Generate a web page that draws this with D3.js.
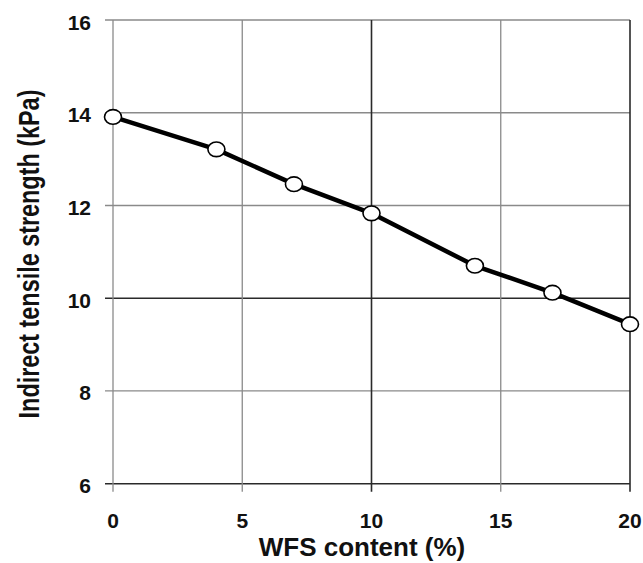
<!DOCTYPE html>
<html><head><meta charset="utf-8">
<script src="https://cdn.jsdelivr.net/npm/d3@7"></script>
<style>body{margin:0;background:#fff}svg{display:block}</style>
</head><body>
<svg id="c" width="643" height="563"></svg>
<script>
const wfsContent = [0, 4, 7, 10, 14, 17, 20];
const tensileStrength = [13.91, 13.21, 12.46, 11.83, 10.70, 10.12, 9.44];
const xTicks = [0, 5, 10, 15, 20];
const yTicks = [6, 8, 10, 12, 14, 16];
const xTitle = "WFS content (%)";
const yTitle = "Indirect tensile strength (kPa)";

const svg = d3.select("#c");
const x = d3.scaleLinear().domain([0, 20]).range([113, 630]);
const y = d3.scaleLinear().domain([6, 16]).range([483.7, 20]);
const font = "'Liberation Sans', Arial, sans-serif";

const darkX = new Set([10, 20]);
const darkY = new Set([6, 10]);

svg.append("g").selectAll("line").data(yTicks).join("line")
  .attr("x1", x(0) - 8).attr("x2", x(20))
  .attr("y1", d => y(d)).attr("y2", d => y(d))
  .attr("stroke", d => darkY.has(d) ? "#2a2a2a" : "#8a8a8a")
  .attr("stroke-width", d => darkY.has(d) ? 1.6 : 1.3);

svg.append("g").selectAll("line").data(xTicks).join("line")
  .attr("x1", d => x(d)).attr("x2", d => x(d))
  .attr("y1", y(16)).attr("y2", y(6) + 8)
  .attr("stroke", d => darkX.has(d) ? "#2a2a2a" : "#8a8a8a")
  .attr("stroke-width", d => darkX.has(d) ? 1.6 : 1.3);

svg.append("g").selectAll("text").data(yTicks).join("text")
  .attr("x", 91).attr("y", d => y(d) + 9.5)
  .attr("text-anchor", "end")
  .attr("font-family", font).attr("font-weight", "bold").attr("font-size", 21)
  .attr("fill", "#111").text(d => d);

svg.append("g").selectAll("text").data(xTicks).join("text")
  .attr("x", d => x(d)).attr("y", 527.5)
  .attr("text-anchor", "middle")
  .attr("font-family", font).attr("font-weight", "bold").attr("font-size", 21)
  .attr("fill", "#111").text(d => d);

const pts = wfsContent.map((d, i) => [d, tensileStrength[i]]);
svg.append("path").datum(pts)
  .attr("d", d3.line().x(d => x(d[0])).y(d => y(d[1])))
  .attr("fill", "none").attr("stroke", "#000").attr("stroke-width", 4.5)
  .attr("stroke-linejoin", "round");

svg.append("g").selectAll("ellipse").data(pts).join("ellipse")
  .attr("cx", d => x(d[0])).attr("cy", d => y(d[1]))
  .attr("rx", 8.5).attr("ry", 7.3)
  .attr("fill", "#fff").attr("stroke", "#000").attr("stroke-width", 1.6);

svg.append("text")
  .attr("x", 362).attr("y", 556)
  .attr("text-anchor", "middle")
  .attr("font-family", font).attr("font-weight", "bold").attr("font-size", 26)
  .attr("fill", "#111").text(xTitle);

svg.append("text")
  .attr("transform", "translate(39,254) rotate(-90) scale(0.78,1)")
  .attr("text-anchor", "middle")
  .attr("font-family", font).attr("font-weight", "bold").attr("font-size", 30)
  .attr("fill", "#111").text(yTitle);
</script>
</body></html>
